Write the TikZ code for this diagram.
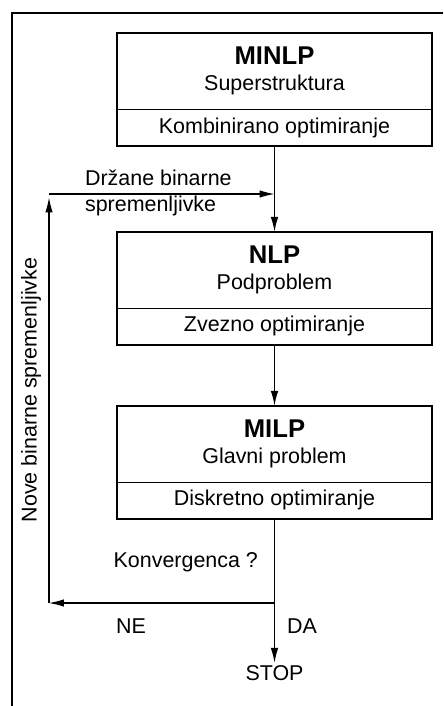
\documentclass[tikz,border=0pt]{standalone}
\usepackage{fontspec}
\setmainfont{Liberation Sans}
\usepackage{tikz}
\usetikzlibrary{arrows.meta, positioning}
\newcommand{\headfont}{\fontsize{14.6}{16}\selectfont\bfseries}
\tikzset{
	node distance = 1.5em,
	line width = .6pt,
	>={Latex[length=3mm,width=1.5mm]},
	font = \fontsize{12.2}{14.6}\selectfont,
	head/.style={
		align=center,
		minimum width=6.3cm,
		minimum height=1.52cm,
		inner sep=0pt,
		outer sep=0pt
	},
	foot/.style={
		minimum width=6.3cm,
		minimum height=0.74cm,
		inner sep=0pt,
		outer sep=0pt
	},
	boxline/.style={
		line width=1.1pt
	},
	flow/.style={
		->,
		line width=.85pt
	},
	loop/.style={
		->,
		line width=.6pt
	},
	txt/.style={
		inner sep=1pt
	}
}

\begin{document}
\begin{tikzpicture}[x=0.02cm,y=-0.02cm]
        \useasboundingbox (0,0) rectangle (443,706);
        \draw[line width=1.1pt] (443,13) -- (12,13) -- (12,706);
        % the three stages
        \node[head] (minlp) at (274.5,71) {{\headfont MINLP}\\Superstruktura};
        \node[foot,below=0pt of minlp] (minlpopt) {Kombinirano optimiranje};
        \node[head,below=1.72cm of minlpopt] (nlp) {{\headfont NLP}\\Podproblem};
        \node[foot,below=0pt of nlp] (nlpopt) {Zvezno optimiranje};
        \node[head,below=1.22cm of nlpopt] (milp) {{\headfont MILP}\\Glavni problem};
        \node[foot,below=0pt of milp] (milpopt) {Diskretno optimiranje};
        \foreach \h/\f in {minlp/minlpopt, nlp/nlpopt, milp/milpopt} {
            \draw[boxline] (\h.north west) rectangle (\f.south east);
            \draw (\f.north west) -- (\f.north east);
        }
        % loop
        \coordinate (branch) at (274.5,603);
        \coordinate (retlow) at (49,603);
        \coordinate (rethigh) at (49,194);
        \coordinate (merge) at (minlpopt.south |- rethigh);
        \node[txt,below=1.2cm of branch] (stop) {STOP};
        \draw[flow] (minlpopt.south) -- (nlp.north);
        \draw[flow] (nlpopt.south) -- (milp.north);
        \draw[flow] (milpopt.south) -- (branch) -- (stop.north);
        \draw[loop] (branch) -- (retlow);
        \draw[loop, shorten >=0.7mm] (retlow) -- (rethigh);
        \draw[loop] (rethigh) -- (merge);
        % labels
        \node[txt,align=left,anchor=west] (held) at (83,193) {Držane binarne\\spremenljivke};
        \node[txt,rotate=90] (new) at (31,390) {Nove binarne spremenljivke};
        \node[txt,anchor=east] (conv) at (260,562) {Konvergenca ?};
        \node[txt] (no) at (131,626) {NE};
        \node[txt] (yes) at (302,626) {DA};
\end{tikzpicture}
\end{document}
